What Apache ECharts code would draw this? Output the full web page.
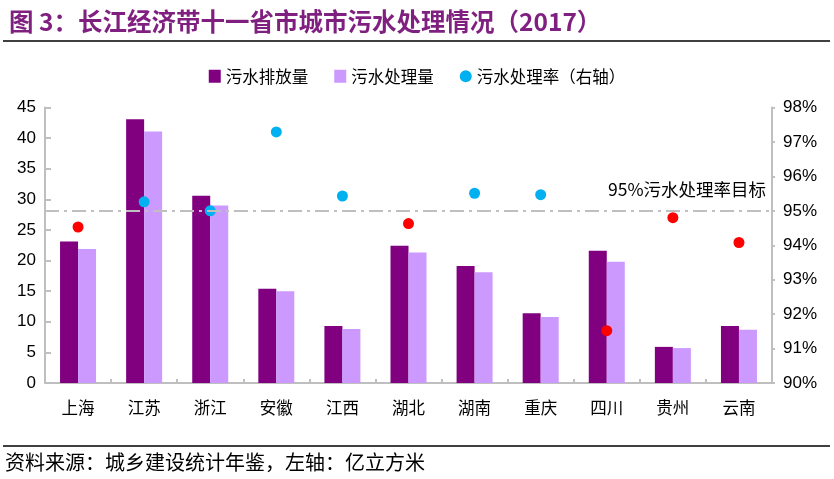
<!DOCTYPE html>
<html><head><meta charset="utf-8">
<script src="https://cdn.jsdelivr.net/npm/echarts@6/dist/echarts.min.js"></script>
<style>html,body{margin:0;padding:0;background:#fff}#c{width:834px;height:479px}</style>
</head><body><div id="c"></div>
<script>
const categories = ['上海','江苏','浙江','安徽','江西','湖北','湖南','重庆','四川','贵州','云南'];
const discharge = [23.1, 43.1, 30.6, 15.4, 9.3, 22.4, 19.1, 11.4, 21.6, 5.9, 9.3];
const treated = [21.9, 41.1, 29.0, 15.0, 8.8, 21.3, 18.1, 10.8, 19.8, 5.7, 8.7];
const rate = [94.53, 95.26, 95.0, 97.29, 95.43, 94.63, 95.51, 95.47, 91.52, 94.8, 94.08];
const target = 95;
const leftTicks = [0, 45, 5];
const rightTicks = [90, 98, 1];

const CJK = '"Noto Sans CJK SC", sans-serif';
const NUM = '"Liberation Sans", Arial, sans-serif';
const axisGray = '#BFBFBF';

const chart = echarts.init(document.getElementById('c'), null, {renderer: 'canvas'});
chart.setOption({
  animation: false,
  backgroundColor: '#fff',
  title: {
    text: '图 3：长江经济带十一省市城市污水处理情况（2017）',
    left: 4, top: 4,
    textStyle: {fontFamily: CJK, fontSize: 24.5, fontWeight: 'bold', color: '#7F1F7F'}
  },
  legend: {
    top: 63, left: 'center',
    itemGap: 26, itemWidth: 12, itemHeight: 13,
    textStyle: {fontFamily: CJK, fontSize: 16.5, color: '#000'},
    data: [
      {name: '污水排放量', icon: 'rect'},
      {name: '污水处理量', icon: 'rect'},
      {name: '污水处理率（右轴）', icon: 'circle'}
    ]
  },
  grid: {left: 45, right: 62, top: 107.5, bottom: 96, containLabel: false},
  xAxis: {
    type: 'category', data: categories,
    axisLine: {lineStyle: {color: axisGray, width: 2}},
    axisTick: {show: true, inside: true, length: 4, lineStyle: {color: axisGray, width: 2}},
    axisLabel: {fontFamily: CJK, fontSize: 16.5, color: '#000', margin: 16}
  },
  yAxis: [
    {
      type: 'value', min: leftTicks[0], max: leftTicks[1], interval: leftTicks[2],
      axisLine: {show: true, lineStyle: {color: axisGray, width: 2}},
      axisTick: {show: true, inside: true, length: 6, lineStyle: {color: axisGray, width: 2}},
      splitLine: {show: false},
      axisLabel: {fontFamily: NUM, fontSize: 17, color: '#000', margin: 9}
    },
    {
      type: 'value', min: rightTicks[0], max: rightTicks[1], interval: rightTicks[2],
      position: 'right',
      axisLine: {show: true, lineStyle: {color: axisGray, width: 2}},
      axisTick: {show: true, inside: false, length: 3, lineStyle: {color: axisGray, width: 2}},
      splitLine: {show: false},
      axisLabel: {fontFamily: NUM, fontSize: 17, color: '#000', margin: 11, formatter: '{value}%'}
    }
  ],
  series: [
    {
      name: '污水排放量', type: 'bar', data: discharge,
      barWidth: 18, barGap: '0%',
      itemStyle: {color: '#800080'}
    },
    {
      name: '污水处理量', type: 'bar', data: treated,
      barWidth: 18,
      itemStyle: {color: '#CC99FF'}
    },
    {
      name: '污水处理率（右轴）', type: 'scatter', yAxisIndex: 1,
      symbolSize: 11,
      itemStyle: {color: '#00B0F0', opacity: 1},
      data: rate.map(v => ({value: v, itemStyle: {color: v >= target ? '#00B0F0' : '#FF0000'}})),
      markLine: {
        silent: true, symbol: ['none', 'none'],
        lineStyle: {color: axisGray, width: 2, type: [14, 5, 3, 5]},
        label: {
          show: true, position: 'insideEndTop', distance: [6, 13],
          formatter: '95%污水处理率目标',
          fontFamily: CJK, fontSize: 17.5, color: '#000'
        },
        data: [{yAxis: target}]
      }
    }
  ],
  graphic: [
    {type: 'line', shape: {x1: 3, y1: 41, x2: 830, y2: 41}, style: {stroke: '#000', lineWidth: 1.5}},
    {type: 'line', shape: {x1: 3, y1: 446, x2: 830, y2: 446}, style: {stroke: '#000', lineWidth: 1.5}},
    {type: 'text', left: 5, top: 452, style: {text: '资料来源：城乡建设统计年鉴，左轴：亿立方米', font: '20px ' + CJK, fill: '#000'}}
  ]
});
</script></body></html>
